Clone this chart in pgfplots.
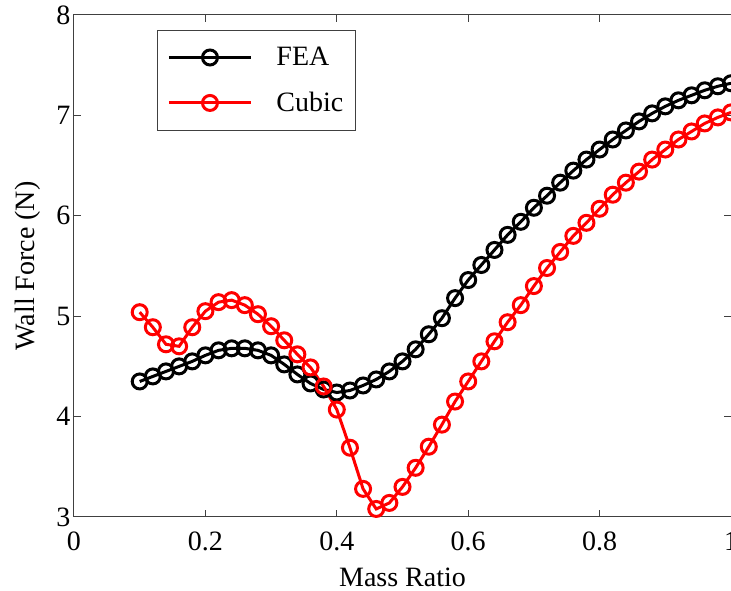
\documentclass[border=0pt]{standalone}
\usepackage{fontspec}
\setmainfont{Liberation Serif}
\usepackage{pgfplots}
\usepackage{pgfplotstable}
\pgfplotsset{compat=1.18}
\usetikzlibrary{calc}

\newcommand\bigfont{\fontsize{28}{32}\selectfont}

% Wall force against mass ratio: finite element results and cubic model
\pgfplotstableread{
x    fea   cubic
0.10 4.35  5.04
0.12 4.40  4.89
0.14 4.45  4.72
0.16 4.50  4.70
0.18 4.55  4.89
0.20 4.61  5.05
0.22 4.66  5.14
0.24 4.68  5.16
0.26 4.68  5.11
0.28 4.66  5.02
0.30 4.61  4.90
0.32 4.52  4.76
0.34 4.42  4.62
0.36 4.33  4.49
0.38 4.27  4.30
0.40 4.24  4.07
0.42 4.26  3.69
0.44 4.31  3.28
0.46 4.37  3.08
0.48 4.45  3.14
0.50 4.55  3.30
0.52 4.67  3.49
0.54 4.82  3.70
0.56 4.98  3.92
0.58 5.18  4.15
0.60 5.36  4.35
0.62 5.51  4.55
0.64 5.66  4.75
0.66 5.81  4.94
0.68 5.94  5.11
0.70 6.08  5.30
0.72 6.20  5.48
0.74 6.33  5.64
0.76 6.45  5.80
0.78 6.56  5.93
0.80 6.66  6.07
0.82 6.76  6.21
0.84 6.85  6.33
0.86 6.94  6.44
0.88 7.02  6.56
0.90 7.09  6.66
0.92 7.15  6.76
0.94 7.20  6.84
0.96 7.25  6.92
0.98 7.29  6.98
1.00 7.32  7.03
}\walldata

\begin{document}
\begin{tikzpicture}
\begin{axis}[
  name=ax,
  scale only axis, width=657pt, height=502pt,
  xmin=0, xmax=1, ymin=3, ymax=8,
  xtick={0,0.2,0.4,0.6,0.8,1}, ytick={3,4,5,6,7,8},
  tick align=inside, major tick length=7pt,
  axis line style={line width=1pt, black!75},
  every tick/.style={line width=1pt, black!75},
  /pgf/number format/assume math mode=true,
  tick label style={font=\bigfont},
  xticklabel style={anchor=base, yshift=-34pt},
  label style={font=\bigfont},
  xlabel={Mass Ratio}, ylabel={Wall Force (N)},
  xlabel style={at={(axis description cs:0.5,-0.1375)}, anchor=base},
  ylabel style={at={(axis description cs:-0.0594,0.5)}, anchor=base},
  legend cell align=left,
  legend image code/.code={%
    \draw[mark repeat=2,mark phase=2,#1]
      plot coordinates {(0pt,0pt) (41pt,0pt) (82pt,0pt)};},
  legend style={at={(0.1263,0.9701)}, anchor=north west,
    draw=black!75, line width=1pt, font=\bigfont,
    inner xsep=10pt, inner ysep=15pt, row sep=21pt, column sep=22pt},
]
\addplot[black, line width=3pt, mark=o, mark size=7.5pt,
  mark options={solid, line width=3pt}] table[x=x, y=fea] {\walldata};
\addlegendentry{FEA}
\addplot[red, line width=3pt, mark=o, mark size=7.5pt,
  mark options={solid, line width=3pt}] table[x=x, y=cubic] {\walldata};
\addlegendentry{Cubic}
\end{axis}
\pgfresetboundingbox
\path[use as bounding box] ($(ax.south west)+(-74pt,-74pt)$) rectangle ($(ax.north east)+(0pt,15pt)$);
\end{tikzpicture}
\end{document}
